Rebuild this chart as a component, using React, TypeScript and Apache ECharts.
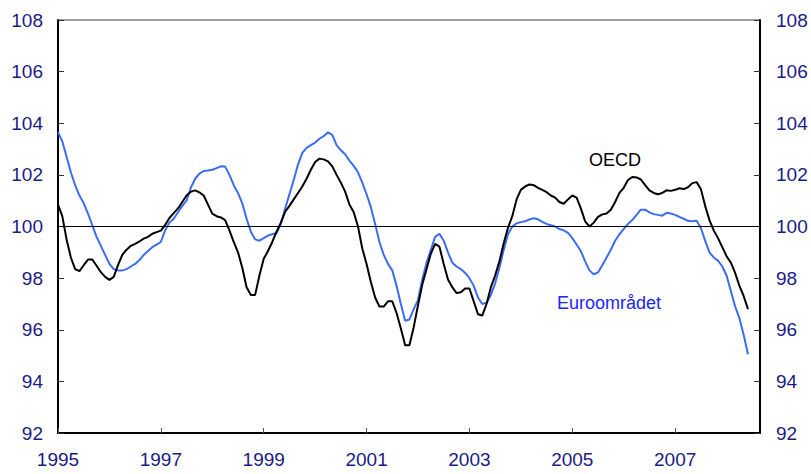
import React, { useEffect, useRef } from "react";
import * as echarts from "echarts";

const START_YEAR = 1995;
const X_TICK_LABELS = ["1995", "1997", "1999", "2001", "2003", "2005", "2007"];
const Y_TICKS = [92, 94, 96, 98, 100, 102, 104, 106, 108];

const euro = [
  103.65, 103.3, 102.7, 102.1, 101.6, 101.2, 100.9, 100.5, 100.05, 99.6, 99.25, 98.9,
  98.55, 98.35, 98.3, 98.3, 98.35, 98.45, 98.55, 98.7, 98.9, 99.05, 99.2, 99.3,
  99.4, 99.85, 100.15, 100.3, 100.55, 100.8, 101.0, 101.5, 101.85, 102.05, 102.15, 102.17,
  102.2, 102.26, 102.33, 102.32, 102.0, 101.6, 101.3, 100.9, 100.3, 99.8, 99.5, 99.45,
  99.55, 99.65, 99.7, 99.75, 100.1, 100.7, 101.25, 101.8, 102.4, 102.85, 103.05, 103.15,
  103.25, 103.4, 103.5, 103.65, 103.55, 103.15, 102.95, 102.8, 102.55, 102.35, 102.1, 101.7,
  101.25, 100.75, 100.1, 99.4, 98.9, 98.55, 98.3, 97.7, 97.0, 96.35, 96.4, 96.8,
  97.15, 97.95, 98.6, 99.1, 99.6, 99.72, 99.45, 99.0, 98.6, 98.45, 98.35, 98.2,
  98.0, 97.7, 97.25, 97.0, 97.05, 97.35, 97.8, 98.4, 99.1, 99.7, 100.0, 100.12,
  100.17, 100.2, 100.27, 100.32, 100.28, 100.18, 100.1, 100.05, 100.0, 99.9, 99.85, 99.75,
  99.55, 99.3, 99.05, 98.65, 98.3, 98.15, 98.22, 98.5, 98.8, 99.1, 99.45, 99.7,
  99.9, 100.1, 100.25, 100.45, 100.65, 100.65, 100.55, 100.48, 100.45, 100.42, 100.53, 100.5,
  100.45, 100.37, 100.3, 100.22, 100.2, 100.22, 99.95, 99.45, 99.0, 98.8, 98.68, 98.45,
  98.1, 97.5, 96.9, 96.45, 95.8, 95.05,
];

const oecd = [
  100.85, 100.4, 99.5, 98.8, 98.35, 98.27, 98.5, 98.72, 98.72, 98.48, 98.23, 98.05,
  97.93, 98.05, 98.5, 98.9, 99.1, 99.25, 99.33, 99.42, 99.53, 99.6, 99.72, 99.78,
  99.84, 100.06, 100.33, 100.52, 100.7, 100.95, 101.2, 101.35, 101.4, 101.32, 101.2, 100.85,
  100.5, 100.4, 100.35, 100.25, 99.85, 99.4, 99.0, 98.4, 97.65, 97.35, 97.35, 98.1,
  98.75, 99.05, 99.4, 99.8, 100.15, 100.57, 100.8, 101.05, 101.3, 101.55, 101.85, 102.2,
  102.5, 102.63, 102.6, 102.52, 102.33, 102.0, 101.7, 101.35, 100.85, 100.55, 100.0, 99.15,
  98.55, 97.85, 97.25, 96.9, 96.9, 97.1, 97.1, 96.65, 96.05, 95.4, 95.4, 96.1,
  96.95, 97.75, 98.35, 98.95, 99.33, 99.22, 98.55, 97.95, 97.65, 97.42, 97.45, 97.6,
  97.6, 97.1, 96.6, 96.55, 97.0, 97.65, 98.1, 98.65, 99.35, 99.95, 100.4, 101.05,
  101.42, 101.55, 101.63, 101.6, 101.5, 101.42, 101.33, 101.2, 101.12, 100.95, 100.88, 101.05,
  101.2, 101.12, 100.7, 100.2, 100.0, 100.15, 100.37, 100.47, 100.5, 100.65, 100.95, 101.3,
  101.5, 101.8, 101.92, 101.9, 101.82, 101.6, 101.4, 101.3, 101.25, 101.3, 101.4, 101.38,
  101.42, 101.48, 101.45, 101.52, 101.68, 101.72, 101.45, 100.8, 100.25, 99.85, 99.55, 99.2,
  98.85, 98.6, 98.2, 97.7, 97.3, 96.8,
];

const REFERENCE_LEVEL = 100;
const SERIES_NAMES = { oecd: "OECD", euro: "Euroområdet" };

const toPoints = (vals: number[]) => vals.map((v, i) => [START_YEAR + i / 12, v]);

const FONT = "'Liberation Sans', Arial, Helvetica, sans-serif";
const NAVY = "#1b1b86";

export default function App() {
  const ref = useRef<HTMLDivElement>(null);

  useEffect(() => {
    document.body.style.margin = "0";
    if (!ref.current) return;
    const chart = echarts.init(ref.current, null, { renderer: "svg" });

    const yAxisCommon = {
      type: "value" as const,
      min: Y_TICKS[0],
      max: Y_TICKS[Y_TICKS.length - 1],
      interval: 2,
      splitLine: { show: false },
      axisLine: { show: true, onZero: false, lineStyle: { color: "#000", width: 2 } },
      axisTick: { show: true, inside: true, length: 6, lineStyle: { color: "#333", width: 1 } },
    };

    chart.setOption({
      animation: false,
      backgroundColor: "#fff",
      grid: {
        left: 58,
        right: 51,
        top: 20,
        bottom: 41,
        show: true,
        borderColor: "#444",
        borderWidth: 1,
      },
      xAxis: {
        type: "value",
        min: START_YEAR,
        max: 2008.65,
        interval: 2,
        splitLine: { show: false },
        axisLine: { show: true, onZero: false, lineStyle: { color: "#000", width: 2 } },
        axisTick: { show: true, inside: true, length: 5, lineStyle: { color: "#555", width: 1 } },
        axisLabel: {
          color: NAVY,
          fontSize: 19,
          fontFamily: FONT,
          margin: 17,
          showMaxLabel: false,
          formatter: (v: number) => {
            const s = String(Math.round(v));
            return Math.abs(v - Math.round(v)) < 1e-6 && X_TICK_LABELS.includes(s) ? s : "";
          },
        },
      },
      yAxis: [
        {
          ...yAxisCommon,
          position: "left",
          axisLabel: { color: NAVY, fontSize: 19, fontFamily: FONT, margin: 15 },
        },
        {
          ...yAxisCommon,
          position: "right",
          axisLabel: { color: NAVY, fontSize: 19, fontFamily: FONT, margin: 16 },
        },
      ],
      series: [
        {
          name: SERIES_NAMES.euro,
          type: "line",
          data: toPoints(euro),
          showSymbol: false,
          symbol: "none",
          lineStyle: { color: "#3b6cf6", width: 2 },
          z: 3,
          markLine: {
            silent: true,
            symbol: "none",
            label: { show: false },
            lineStyle: { color: "#000", width: 1, type: "solid" },
            data: [{ yAxis: REFERENCE_LEVEL }],
          },
        },
        {
          name: SERIES_NAMES.oecd,
          type: "line",
          data: toPoints(oecd),
          showSymbol: false,
          symbol: "none",
          lineStyle: { color: "#000", width: 2 },
          z: 4,
        },
      ],
      graphic: [
        {
          type: "text",
          left: 589,
          top: 151,
          style: { text: SERIES_NAMES.oecd, fill: "#000", font: `18px ${FONT}` },
        },
        {
          type: "text",
          left: 557,
          top: 294,
          style: { text: SERIES_NAMES.euro, fill: "#2323ff", font: `18px ${FONT}` },
        },
      ],
    });

    return () => chart.dispose();
  }, []);

  return <div ref={ref} style={{ width: 811, height: 474 }} />;
}
